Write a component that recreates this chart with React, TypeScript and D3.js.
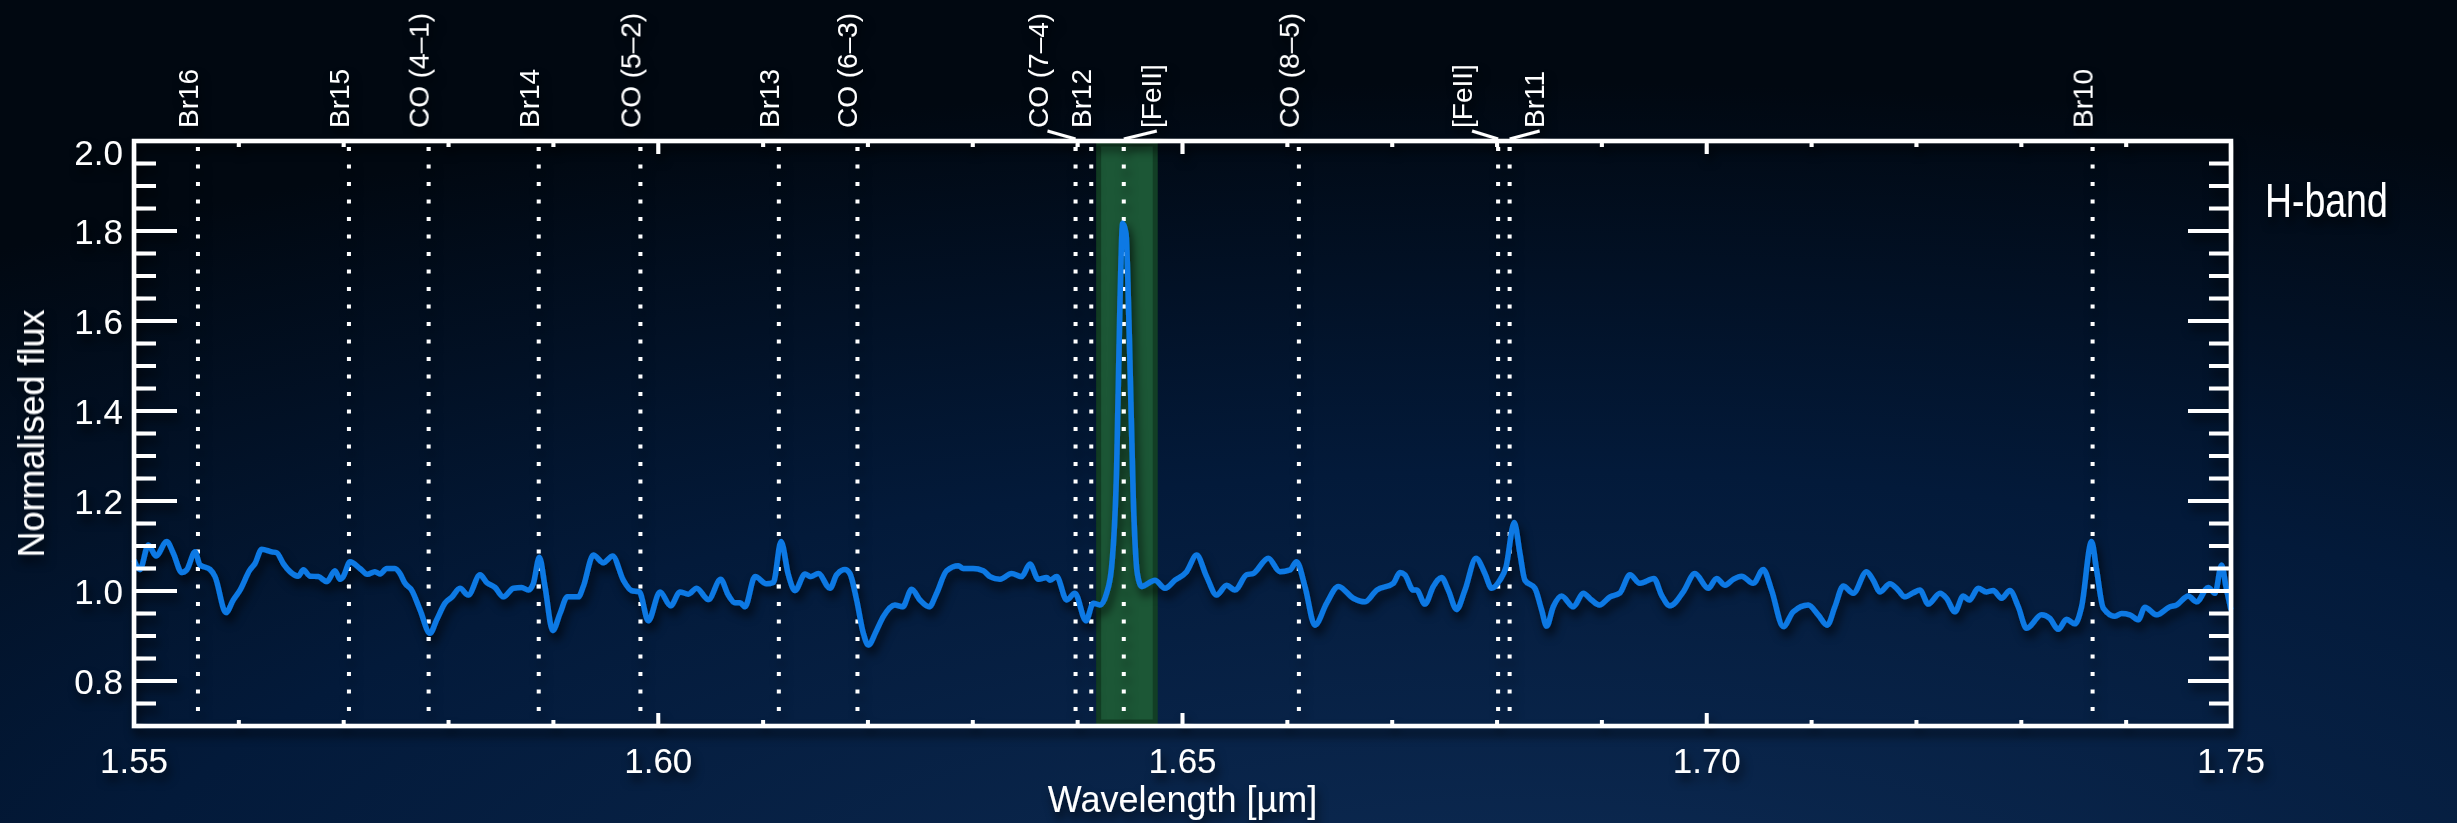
import React from "react";
import * as d3 from "d3";

// spectrum (wavelength in micron, normalised flux)
const wavelength = [
  1.5500, 1.55057, 1.55137, 1.55210, 1.55312, 1.55375, 1.55455, 1.55503, 1.55582, 1.55629,
  1.55725, 1.55773, 1.55877, 1.55947, 1.56011, 1.56106, 1.56154, 1.56218, 1.56313, 1.56361,
  1.56424, 1.56488, 1.56567, 1.56615, 1.56679, 1.56758, 1.56838, 1.56917, 1.56965, 1.56996,
  1.57060, 1.57155, 1.57225, 1.57298, 1.57346, 1.57410, 1.57489, 1.57537, 1.57585, 1.57648,
  1.57728, 1.57823, 1.57887, 1.57966, 1.58030, 1.58109, 1.58188,
  1.58300, 1.58364, 1.58443, 1.58523, 1.58618, 1.58697, 1.58761, 1.58809, 1.58866, 1.58920,
  1.58993, 1.59063, 1.59133, 1.59238, 1.59285, 1.59381, 1.59476, 1.59565, 1.59667, 1.59746,
  1.59820, 1.59905, 1.60017, 1.60118, 1.60207, 1.60287, 1.60366, 1.60478, 1.60595, 1.60668,
  1.60732, 1.60780, 1.60827, 1.60923, 1.61034, 1.61098, 1.61171, 1.61241, 1.61304, 1.61400,
  1.61454, 1.61527,
  1.61638, 1.61701, 1.61781, 1.61828, 1.61892, 1.61956, 1.62003, 1.62083, 1.62146, 1.62257,
  1.62331, 1.62417, 1.62496, 1.62585, 1.62655, 1.62750, 1.62862, 1.62909, 1.63004, 1.63100,
  1.63164, 1.63259, 1.63370, 1.63465, 1.63545, 1.63625, 1.63704,
  1.63736, 1.63800, 1.63895, 1.63974, 1.64079, 1.64149, 1.64213, 1.64276, 1.64324, 1.64372,
  1.64404, 1.64429, 1.64461, 1.64492, 1.64531, 1.64569, 1.64610, 1.64737, 1.64833, 1.64928,
  1.65039, 1.65135, 1.65230, 1.65325, 1.65421, 1.65500, 1.65611, 1.65675, 1.65818, 1.65929,
  1.66025, 1.66088, 1.66168, 1.66263, 1.66375, 1.66486, 1.66629, 1.66740, 1.66852, 1.67010,
  1.67074, 1.67121, 1.67201, 1.67233, 1.67312, 1.67392, 1.67471, 1.67535, 1.67614, 1.67694,
  1.67799, 1.67884, 1.67948, 1.68027, 1.68085, 1.68164, 1.68218, 1.68266, 1.68361, 1.68425,
  1.68473, 1.68536, 1.68616, 1.68727, 1.68822, 1.68902, 1.68975, 1.69077, 1.69172, 1.69267,
  1.69363, 1.69496, 1.69569, 1.69649, 1.69776, 1.69887, 1.70014, 1.70094, 1.70173, 1.70253,
  1.70332, 1.70444, 1.70539, 1.70618, 1.70730, 1.70825, 1.70968,
  1.71063, 1.71149, 1.71222, 1.71302, 1.71397, 1.71524, 1.71588, 1.71652, 1.71747, 1.71811,
  1.71890, 1.71970, 1.72033, 1.72113, 1.72224, 1.72287, 1.72367, 1.72446, 1.72504, 1.72589,
  1.72668, 1.72733, 1.72812, 1.72891, 1.72971, 1.73050, 1.73193, 1.73273, 1.73352, 1.73432,
  1.73511, 1.73575, 1.73670, 1.73718, 1.73782, 1.73893, 1.73956, 1.74036, 1.74115, 1.74179,
  1.74290, 1.74417, 1.74481, 1.74592, 1.74672, 1.74783, 1.74847, 1.74910, 1.74952, 1.75000,
];

const flux = [
  1.069, 1.048, 1.102, 1.078, 1.110, 1.084, 1.041, 1.047, 1.087, 1.058,
  1.048, 1.032, 0.952, 0.980, 1.002, 1.047, 1.061, 1.093, 1.087, 1.085,
  1.061, 1.043, 1.033, 1.047, 1.033, 1.032, 1.021, 1.045, 1.026, 1.032,
  1.065, 1.050, 1.037, 1.043, 1.038, 1.050, 1.050, 1.039, 1.017, 1.002,
  0.958, 0.906, 0.936, 0.973, 0.986, 1.006, 0.991,
  1.036, 1.019, 1.008, 0.987, 1.006, 1.008, 1.002, 1.017, 1.075, 1.010,
  0.912, 0.950, 0.987, 0.987, 1.010, 1.080, 1.063, 1.078, 1.024, 1.001,
  0.998, 0.934, 0.998, 0.967, 0.998, 0.993, 1.006, 0.981, 1.026, 0.991,
  0.974, 0.974, 0.965, 1.032, 1.016, 1.019, 1.110, 1.036, 1.001, 1.038,
  1.032, 1.039,
  1.006, 1.036, 1.048, 1.039, 0.980, 0.906, 0.880, 0.913, 0.943, 0.969,
  0.965, 1.004, 0.980, 0.965, 0.995, 1.045, 1.056, 1.050, 1.050, 1.045,
  1.032, 1.026, 1.039, 1.032, 1.060, 1.026, 1.030,
  1.024, 1.032, 0.980, 0.995, 0.934, 0.973, 0.969, 0.995, 1.054, 1.276,
  1.647, 1.817, 1.795, 1.573, 1.202, 1.039, 1.010, 1.024, 1.006, 1.024,
  1.043, 1.080, 1.032, 0.991, 1.013, 1.002, 1.036, 1.039, 1.073, 1.043,
  1.047, 1.065, 1.010, 0.924, 0.973, 1.010, 0.984, 0.976, 1.002, 1.017,
  1.041, 1.036, 1.002, 1.002, 0.971, 1.010, 1.030, 1.002, 0.959, 1.002,
  1.073, 1.039, 1.006, 1.024, 1.053, 1.152, 1.084, 1.024, 1.006, 0.958,
  0.922, 0.965, 0.989, 0.965, 0.995, 0.980, 0.969, 0.987, 0.996, 1.036,
  1.017, 1.028, 0.991, 0.967, 0.998, 1.039, 1.006, 1.028, 1.013, 1.026,
  1.033, 1.017, 1.048, 1.002, 0.921, 0.954, 0.969,
  0.947, 0.924, 0.965, 1.011, 0.995, 1.043, 1.024, 0.998, 1.016, 1.006,
  0.987, 0.996, 1.002, 0.971, 0.995, 0.984, 0.954, 0.989, 0.980, 1.006,
  0.998, 1.001, 0.984, 1.001, 0.965, 0.917, 0.947, 0.939, 0.915, 0.937,
  0.927, 0.965, 1.110, 1.047, 0.962, 0.944, 0.950, 0.947, 0.936, 0.964,
  0.947, 0.965, 0.969, 0.989, 0.976, 1.008, 0.995, 1.058, 1.010, 0.958,
];

// line identifications
const lineNames = [
  "Br16", "Br15", "CO (4\u20131)", "Br14", "CO (5\u20132)", "Br13", "CO (6\u20133)",
  "CO (7\u20134)", "Br12", "[FeII]", "CO (8\u20135)", "[FeII]", "Br11", "Br10",
];
const lineWaves = [
  1.5561, 1.5705, 1.5781, 1.5886, 1.5983, 1.6115, 1.619,
  1.6398, 1.6413, 1.6444, 1.6611, 1.6801, 1.6812, 1.7368,
];

// shaded [FeII] window
const bandRange = [1.642, 1.6474];

const xTickLabels = ["1.55", "1.60", "1.65", "1.70", "1.75"];
const yTickLabels = ["0.8", "1.0", "1.2", "1.4", "1.6", "1.8", "2.0"];

const W = 2457, H = 823;
const FONT = "'Liberation Sans', Arial, Helvetica, sans-serif";
// crowded labels get pushed sideways (pixels), as in the original
const labelNudge: Record<number, number> = { 7: -28, 9: 37, 11: -26, 12: 34 };

export default function App() {
  const x = d3.scaleLinear().domain([1.55, 1.75]).range([134, 2231]);
  const y = d3.scaleLinear().domain([0.7, 2.0]).range([726, 141]);
  const [x0, x1] = x.range();
  const [yb, yt] = y.range();

  const pts = wavelength.map((w, i) => [w, flux[i]] as [number, number]);
  const path = d3.line<[number, number]>()
    .x(d => x(d[0]))
    .y(d => y(d[1]))
    .curve(d3.curveMonotoneX)(pts) || "";

  const xTicks = d3.range(0, 21).map(i => 1.55 + i * 0.01);
  const yTicks = d3.range(0, 27).map(i => 0.7 + i * 0.05);
  const isMajorX = (v: number) => Math.abs(Math.round(v * 20) - v * 20) < 1e-6;
  const isMajorY = (v: number) => Math.abs(Math.round(v * 5) - v * 5) < 1e-6;

  const white = "#ffffff";

  return (
    <svg width={W} height={H} style={{ position: "absolute", left: 0, top: 0, display: "block" }}>
      <defs>
        <radialGradient id="bg" cx="0.62" cy="1.15" r="1.05">
          <stop offset="0" stopColor="#0d2b54" />
          <stop offset="0.55" stopColor="#031a3a" />
          <stop offset="1" stopColor="#010811" />
        </radialGradient>
        <filter id="shadow" x="-5%" y="-5%" width="110%" height="120%">
          <feDropShadow dx="3" dy="7" stdDeviation="5" floodColor="#000000" floodOpacity="0.7" />
        </filter>
      </defs>
      <rect width={W} height={H} fill="url(#bg)" />

      {/* shaded window */}
      <rect
        x={x(bandRange[0])}
        y={yt + 3}
        width={x(bandRange[1]) - x(bandRange[0])}
        height={yb - yt - 7}
        fill="#1c5736"
        stroke="#123e25"
        strokeWidth={5}
      />

      <g filter="url(#shadow)">
        {/* dotted line markers */}
        {lineWaves.map((w, i) => (
          <line key={"d" + i} x1={x(w)} x2={x(w)} y1={yt + 2} y2={yb}
            stroke={white} strokeWidth={4} strokeDasharray="4,13.5" strokeDashoffset={-4} />
        ))}

        {/* spectrum */}
        <path d={path} fill="none" stroke="#0b79e4" strokeWidth={5.5} strokeLinejoin="round" />

        {/* axes box */}
        <rect x={x0} y={yt} width={x1 - x0} height={yb - yt} fill="none" stroke={white} strokeWidth={4.5} />

        {xTicks.map((v, i) => {
          const len = isMajorX(v) ? 13 : 6;
          return (
            <g key={"xt" + i}>
              <line x1={x(v)} x2={x(v)} y1={yb} y2={yb - len} stroke={white} strokeWidth={4} />
              <line x1={x(v)} x2={x(v)} y1={yt} y2={yt + len} stroke={white} strokeWidth={4} />
            </g>
          );
        })}
        {yTicks.map((v, i) => {
          const len = isMajorY(v) ? 43 : 22;
          return (
            <g key={"yt" + i}>
              <line x1={x0} x2={x0 + len} y1={y(v)} y2={y(v)} stroke={white} strokeWidth={4} />
              <line x1={x1} x2={x1 - len} y1={y(v)} y2={y(v)} stroke={white} strokeWidth={4} />
            </g>
          );
        })}

        {/* tick labels */}
        {xTickLabels.map(t => (
          <text key={"xl" + t} x={x(+t)} y={773} textAnchor="middle" fill={white}
            fontFamily={FONT} fontSize={35}>{t}</text>
        ))}
        {yTickLabels.map(t => (
          <text key={"yl" + t} x={123} y={Math.max(y(+t), yt + 11)} dy="0.36em" textAnchor="end"
            fill={white} fontFamily={FONT} fontSize={35}>{t}</text>
        ))}

        {/* axis titles */}
        <text x={(x0 + x1) / 2} y={812} textAnchor="middle" fill={white} fontFamily={FONT} fontSize={36}>
          Wavelength [{"\u00b5"}m]
        </text>
        <text transform={`translate(44,${(yt + yb) / 2}) rotate(-90)`} textAnchor="middle" fill={white}
          fontFamily={FONT} fontSize={36}>
          Normalised flux
        </text>
        <text transform="translate(2265,217) scale(0.78,1)" fill={white} fontFamily={FONT} fontSize={48}>
          H-band
        </text>

        {/* line labels */}
        {lineNames.map((name, i) => {
          const lx = x(lineWaves[i]);
          const nudge = labelNudge[i] || 0;
          const tx = lx + nudge;
          return (
            <g key={"n" + i}>
              {nudge !== 0 && (
                <line x1={lx} y1={yt - 2} x2={tx + (nudge < 0 ? 0 : -4)} y2={131}
                  stroke={white} strokeWidth={3} />
              )}
              <text transform={`translate(${tx},128) rotate(-90)`} fill={white}
                fontFamily={FONT} fontSize={28}>{name}</text>
            </g>
          );
        })}
      </g>
    </svg>
  );
}
